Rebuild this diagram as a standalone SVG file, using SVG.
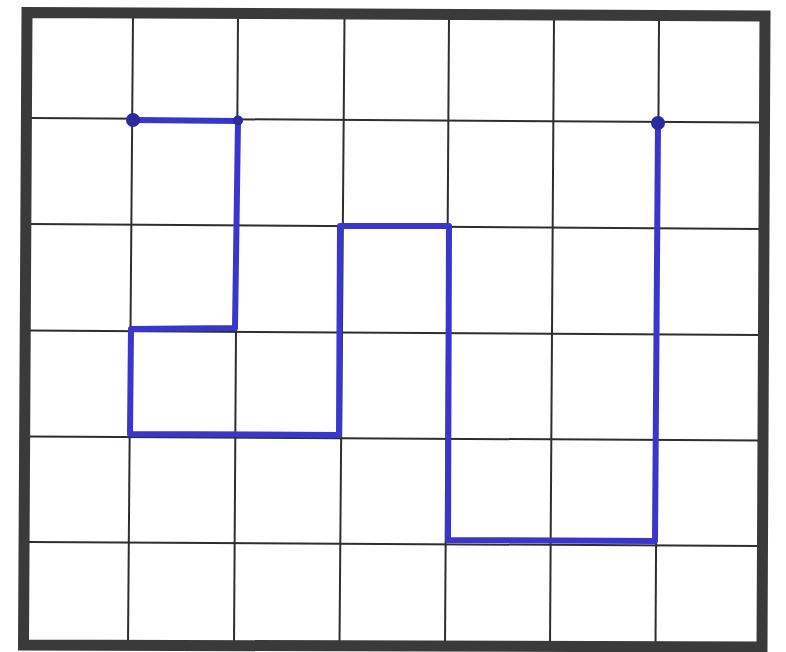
<svg xmlns="http://www.w3.org/2000/svg" width="786" height="652" viewBox="0 0 786 652">
<style>
.grid{stroke:#2e2e2e;stroke-width:2;fill:none;stroke-linecap:butt}
.frame{stroke:#3a3a3a;stroke-width:11;fill:none;stroke-linejoin:miter}
.path{stroke:#3a36cc;stroke-width:6;fill:none;stroke-linejoin:round;stroke-linecap:round}
.dot{fill:#2c2aa0}
</style>
<rect width="786" height="652" fill="#ffffff"/>
<g id="grid">
<line class="grid" x1="133" y1="17" x2="128" y2="644"/>
<line class="grid" x1="238" y1="17" x2="234" y2="644"/>
<line class="grid" x1="344.5" y1="18" x2="339.5" y2="644"/>
<line class="grid" x1="449" y1="18" x2="445" y2="645"/>
<line class="grid" x1="554" y1="19" x2="550" y2="645"/>
<line class="grid" x1="659" y1="20" x2="655.5" y2="645"/>
<line class="grid" x1="31" y1="118" x2="761" y2="122.5"/>
<line class="grid" x1="30" y1="224" x2="760" y2="229"/>
<line class="grid" x1="30" y1="330.5" x2="760" y2="335"/>
<line class="grid" x1="29" y1="436.5" x2="760" y2="440.5"/>
<line class="grid" x1="29" y1="542" x2="759" y2="546"/>
</g>
<g id="frame">
<polygon class="frame" points="27,12.5 765,16 762,647 23.5,645"/>
</g>
<g id="connectors">
<polyline class="path" points="133,120 238,121 235,328 131,329 130,434 339,435 340,226 449,226 448,540 655,541 658,123"/>
</g>
<g id="node-start"><circle class="dot" cx="133" cy="120" r="7"/></g>
<g id="node-corner"><circle class="dot" cx="238" cy="120.5" r="5"/></g>
<g id="node-end"><circle class="dot" cx="658" cy="123" r="7"/></g>
</svg>
